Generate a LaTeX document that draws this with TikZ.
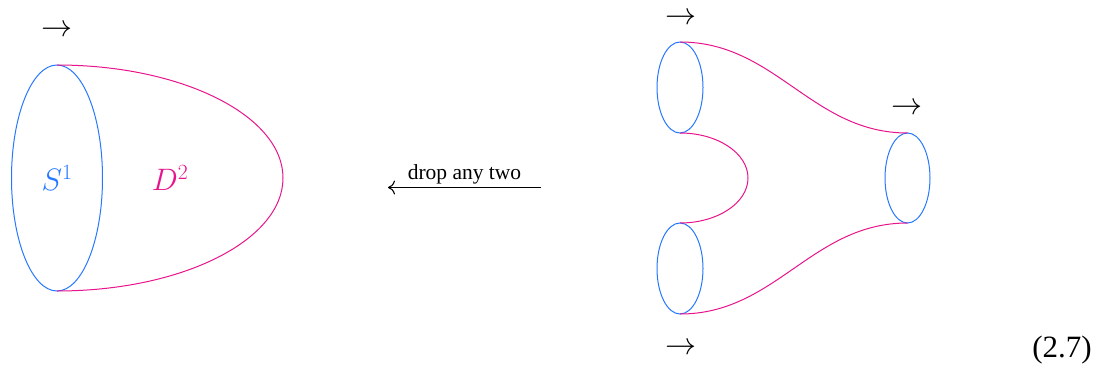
\documentclass[tikz,border=0pt]{standalone}
\usepackage{fix-cm}
\usepackage{fontspec}
\setmainfont{Liberation Serif}
\usetikzlibrary{shapes.geometric,arrows.meta}
\definecolor{cblue}{RGB}{38,120,255}
\definecolor{cmag}{RGB}{232,20,140}
\tikzset{
  bigfont/.style={font=\fontsize{31}{36}\selectfont},
  smallfont/.style={font=\fontsize{21.5}{25}\selectfont},
  rim/.style={ellipse,draw=cblue,line width=1pt,inner sep=0pt,outer sep=0pt},
  skin/.style={draw=cmag,line width=1pt},
  dirarrow/.style={bigfont,anchor=base,inner sep=0pt},
}
\begin{document}
\begin{tikzpicture}[x=1pt,y=1pt]
\useasboundingbox (0,0) rectangle (1098,-372);
% left: disc
\node[rim,minimum width=91,minimum height=226,text=cblue,bigfont] (L) at (57,-178) {$S^1$};
\draw[skin] (L.north) arc[start angle=90,end angle=-90,x radius=226,y radius=113];
\node[bigfont,text=cmag] (D) at (170,-178) {$D^2$};
\node[dirarrow] (aL) at (57,-36.5) {$\rightarrow$};
% middle arrow
\coordinate (arrR) at (541,-187.5);
\coordinate (arrL) at (388,-187.5);
\draw[line width=1.1pt,{Computer Modern Rightarrow[length=7pt,width=14pt]}-] (arrL) -- (arrR)
  node[midway,above=3pt,smallfont,inner sep=0pt] (lbl) {drop any two};
% right: pair of pants
\node[rim,minimum width=46,minimum height=91] (A) at (680,-87.5) {};
\node[rim,minimum width=46,minimum height=91] (B) at (680,-268.5) {};
\node[rim,minimum width=45,minimum height=90] (C) at (907.5,-178) {};
\draw[skin] (A.north) to[out=0,in=180] (C.north);
\draw[skin] (B.south) to[out=0,in=180] (C.south);
\draw[skin] (A.south) arc[start angle=90,end angle=-90,x radius=68,y radius=45];
\node[dirarrow] (aA) at (680.5,-24.5) {$\rightarrow$};
\node[dirarrow] (aC) at (907,-114.5) {$\rightarrow$};
\node[dirarrow] (aB) at (680.5,-354.5) {$\rightarrow$};
% equation number
\node[bigfont,anchor=base east,inner sep=0pt] (eq) at (1092,-357.5) {(2.7)};
\end{tikzpicture}
\end{document}
